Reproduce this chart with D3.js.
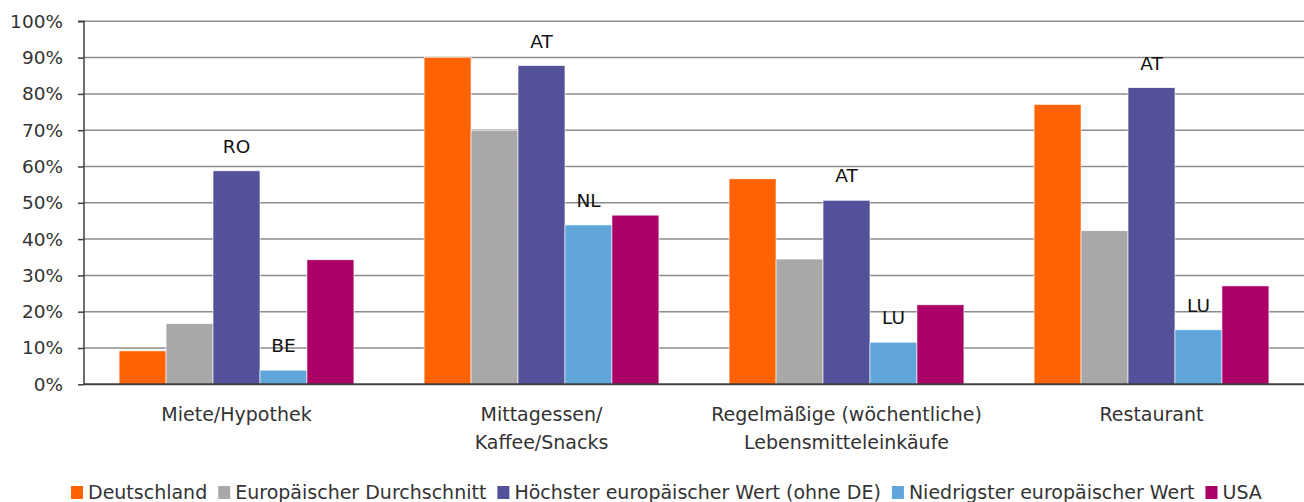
<!DOCTYPE html>
<html><head><meta charset="utf-8">
<script src="https://cdn.jsdelivr.net/npm/d3@7"></script>
<style>body{margin:0;background:#fff;}svg{display:block;font-family:"DejaVu Sans","Open Sans",sans-serif;}</style>
</head><body><svg id="c" width="1304" height="502"></svg>
<script>
const categories = [["Miete/Hypothek"],["Mittagessen/","Kaffee/Snacks"],["Regelmäßige (wöchentliche)","Lebensmitteleinkäufe"],["Restaurant"]];
const seriesNames = ["Deutschland","Europäischer Durchschnitt","Höchster europäischer Wert (ohne DE)","Niedrigster europäischer Wert","USA"];
const colors = ["#FF6200","#A8A8A8","#525199","#60A6DA","#AB0066"];
const deutschland = [9.2, 90.1, 56.6, 77.1];
const euAvg = [16.7, 69.9, 34.5, 42.3];
const euMax = [58.8, 87.8, 50.7, 81.7];
const euMin = [3.9, 43.9, 11.6, 15.0];
const usa = [34.3, 46.6, 21.9, 27.1];
const maxLabels = ["RO","AT","AT","AT"];
const minLabels = ["BE","NL","LU","LU"];
const yTicks = [0,10,20,30,40,50,60,70,80,90,100];

const series = [deutschland, euAvg, euMax, euMin, usa];
const svg = d3.select("#c");
const mLeft = 84, mRight = 1304, mTop = 21.3, mBottom = 384.3;
const x0 = d3.scaleBand().domain(d3.range(categories.length)).range([mLeft, mRight]).paddingInner(0.23).paddingOuter(0.115);
const x1 = d3.scaleBand().domain(d3.range(series.length)).range([0, x0.bandwidth()]);
const y = d3.scaleLinear().domain([0,100]).range([mBottom, mTop]);

// gridlines
svg.append("g").selectAll("line").data(yTicks.filter(d=>d>0)).join("line")
  .attr("x1", mLeft).attr("x2", mRight).attr("y1", d=>y(d)).attr("y2", d=>y(d))
  .attr("stroke","#8c8c8c").attr("stroke-width",1.5);

// y axis
const ya = svg.append("g").attr("transform",`translate(${mLeft},0)`)
  .call(d3.axisLeft(y).tickValues(yTicks).tickFormat(d=>d+"%").tickSize(6).tickPadding(15));
ya.select(".domain").attr("stroke","#404040").attr("stroke-width",1.5).attr("d",`M-6,${mTop}H0V${mBottom}`);
ya.selectAll(".tick line").attr("stroke","#404040").attr("stroke-width",1.5);
ya.selectAll(".tick text").attr("font-size",18.5).attr("fill","#333").attr("font-family","'DejaVu Sans',sans-serif");

// bars
const g = svg.append("g");
categories.forEach((c,i)=>{
  series.forEach((s,j)=>{
    g.append("rect").attr("x", x0(i)+x1(j)).attr("width", x1.bandwidth())
      .attr("y", y(s[i])).attr("height", y(0)-y(s[i]))
      .attr("fill", colors[j]).attr("stroke","#fff").attr("stroke-width",0.6);
  });
  [[2,maxLabels],[3,minLabels]].forEach(([j,labs])=>{
    g.append("text").attr("x", x0(i)+x1(j)+x1.bandwidth()/2).attr("y", y(series[j][i])-18)
      .attr("text-anchor","middle").attr("font-size",18.5).attr("fill","#111").text(labs[i]);
  });
});

// x axis line
svg.append("line").attr("x1",mLeft).attr("x2",mRight).attr("y1",mBottom).attr("y2",mBottom)
  .attr("stroke","#404040").attr("stroke-width",2);

// category labels
categories.forEach((c,i)=>{
  const t = svg.append("text").attr("text-anchor","middle").attr("font-size",19).attr("fill","#333");
  c.forEach((line,k)=>{
    t.append("tspan").attr("x", x0(i)+x0.bandwidth()/2).attr("y", 421 + k*28).text(line);
  });
});

// legend
const lg = svg.append("g");
let lx = 71;
seriesNames.forEach((n,j)=>{
  const it = lg.append("g").attr("transform",`translate(${lx},499)`);
  it.append("rect").attr("x",0).attr("y",-13).attr("width",12).attr("height",13).attr("fill",colors[j]);
  const tx = it.append("text").attr("x",17).attr("y",0).attr("font-size",19).attr("fill","#333").text(n);
  lx += 17 + tx.node().getComputedTextLength() + 11;
});
</script></body></html>
